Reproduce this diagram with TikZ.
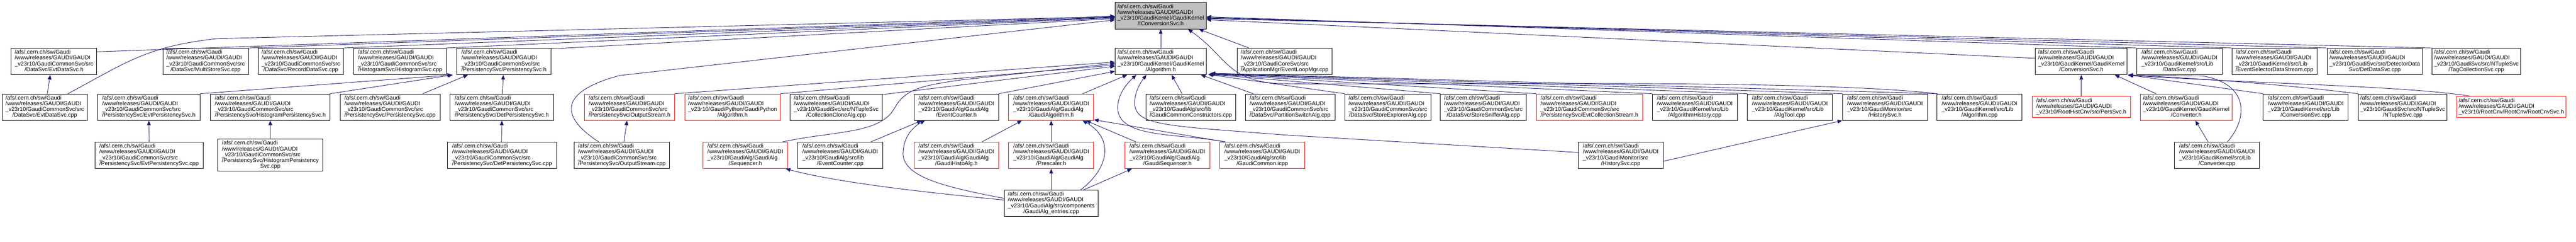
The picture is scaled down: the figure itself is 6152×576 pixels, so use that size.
\documentclass[tikz,border=0pt]{standalone}
\usepackage{fontspec}
\setmainfont{Liberation Sans}
\usetikzlibrary{arrows.meta,calc}
\definecolor{edgec}{RGB}{25,25,112}
\definecolor{rootfill}{RGB}{191,191,191}
\newcommand\LA[2]{\begin{tabular}{@{}l@{}}/afs/.cern.ch/sw/Gaudi\\/www/releases/GAUDI/GAUDI\\#1\\\multicolumn{1}{@{}c@{}}{#2}\end{tabular}}
\newcommand\LB[1]{\begin{tabular}{@{}l@{}}/afs/.cern.ch/sw/Gaudi\\/www/releases/GAUDI/GAUDI\\#1\end{tabular}}
\newcommand\LC[3]{\begin{tabular}{@{}l@{}}/afs/.cern.ch/sw/Gaudi\\/www/releases/GAUDI/GAUDI\\#1\\#2\\\multicolumn{1}{@{}c@{}}{#3}\end{tabular}}
\tikzset{
 bx/.style={draw=black, line width=1.1pt, fill=white, inner sep=0pt, minimum height=63pt},
 rbx/.style={bx, draw=red},
 e/.style={draw=edgec, line width=1.1pt, -{Triangle[length=11pt,width=9pt]}},
}
\begin{document}
\begin{tikzpicture}[x=1pt,y=-1pt,font=\fontsize{13.5}{13.3}\selectfont]
\fill[white] (0,0) rectangle (6152,576);
\useasboundingbox (0,0) rectangle (6152,576);
% row 0
\node[bx, fill=rootfill, minimum width=218pt] (root) at (2772,37.5) {\LA{\_v23r10/GaudiKernel/GaudiKernel}{/IConversionSvc.h}};
% row 1
\node[bx, minimum width=204pt] (evtdatah) at (129,146.5) {\LA{\_v23r10/GaudiCommonSvc/src}{/DataSvc/EvtDataSvc.h}};
\node[bx, minimum width=204pt] (multistore) at (491,146.5) {\LA{\_v23r10/GaudiCommonSvc/src}{/DataSvc/MultiStoreSvc.cpp}};
\node[bx, minimum width=203pt] (recorddata) at (718.5,146.5) {\LA{\_v23r10/GaudiCommonSvc/src}{/DataSvc/RecordDataSvc.cpp}};
\node[bx, minimum width=221pt] (histsvc) at (955.5,146.5) {\LA{\_v23r10/GaudiCommonSvc/src}{/HistogramSvc/HistogramSvc.cpp}};
\node[bx, minimum width=225pt] (perssvch) at (1203.5,146.5) {\LA{\_v23r10/GaudiCommonSvc/src}{/PersistencySvc/PersistencySvc.h}};
\node[bx, minimum width=218pt] (algh) at (2772,146.5) {\LA{\_v23r10/GaudiKernel/GaudiKernel}{/Algorithm.h}};
\node[bx, minimum width=226pt] (evtloop) at (3068,146.5) {\LA{\_v23r10/GaudiCoreSvc/src}{/ApplicationMgr/EventLoopMgr.cpp}};
\node[bx, minimum width=219pt] (convsvch) at (4970.5,146.5) {\LA{\_v23r10/GaudiKernel/GaudiKernel}{/ConversionSvc.h}};
\node[bx, minimum width=204pt] (datasvccpp) at (5205,146.5) {\LA{\_v23r10/GaudiKernel/src/Lib}{/DataSvc.cpp}};
\node[bx, minimum width=202pt] (evtsel) at (5432,146.5) {\LA{\_v23r10/GaudiKernel/src/Lib}{/EventSelectorDataStream.cpp}};
\node[bx, minimum width=227pt] (detdata) at (5671.5,146.5) {\LA{\_v23r10/GaudiSvc/src/DetectorData}{Svc/DetDataSvc.cpp}};
\node[bx, minimum width=212pt] (tagcoll) at (5914,146.5) {\LA{\_v23r10/GaudiSvc/src/NTupleSvc}{/TagCollectionSvc.cpp}};
% row 2
\node[bx, minimum width=204pt] (evtdatacpp) at (107,255.5) {\LA{\_v23r10/GaudiCommonSvc/src}{/DataSvc/EvtDataSvc.cpp}};
\node[bx, minimum width=245pt] (evtpersh) at (355.5,255.5) {\LA{\_v23r10/GaudiCommonSvc/src}{/PersistencySvc/EvtPersistencySvc.h}};
\node[bx, minimum width=285pt] (histpersh) at (645.5,255.5) {\LA{\_v23r10/GaudiCommonSvc/src}{/PersistencySvc/HistogramPersistencySvc.h}};
\node[bx, minimum width=239pt] (perssvccpp) at (931.5,255.5) {\LA{\_v23r10/GaudiCommonSvc/src}{/PersistencySvc/PersistencySvc.cpp}};
\node[bx, minimum width=247pt] (detpersh) at (1198.5,255.5) {\LA{\_v23r10/GaudiCommonSvc/src}{/PersistencySvc/DetPersistencySvc.h}};
\node[rbx, minimum width=215pt] (outstreamh) at (1503.5,255.5) {\LA{\_v23r10/GaudiCommonSvc/src}{/PersistencySvc/OutputStream.h}};
\node[rbx, minimum width=227pt] (pyalgh) at (1749.5,255.5) {\LA{\_v23r10/GaudiPython/GaudiPython}{/Algorithm.h}};
\node[bx, minimum width=220pt] (collclone) at (1997,255.5) {\LA{\_v23r10/GaudiSvc/src/NTupleSvc}{/CollectionCloneAlg.cpp}};
\node[bx, minimum width=202pt] (evcounterh) at (2284,255.5) {\LA{\_v23r10/GaudiAlg/GaudiAlg}{/EventCounter.h}};
\node[rbx, minimum width=203pt] (gaudialgh) at (2510.5,255.5) {\LA{\_v23r10/GaudiAlg/GaudiAlg}{/GaudiAlgorithm.h}};
\node[bx, minimum width=214pt] (commonctor) at (2844,255.5) {\LA{\_v23r10/GaudiAlg/src/lib}{/GaudiCommonConstructors.cpp}};
\node[bx, minimum width=214pt] (partition) at (3081,255.5) {\LA{\_v23r10/GaudiCommonSvc/src}{/DataSvc/PartitionSwitchAlg.cpp}};
\node[bx, minimum width=205pt] (storeexp) at (3314.5,255.5) {\LA{\_v23r10/GaudiCommonSvc/src}{/DataSvc/StoreExplorerAlg.cpp}};
\node[bx, minimum width=205pt] (storesniff) at (3542.5,255.5) {\LA{\_v23r10/GaudiCommonSvc/src}{/DataSvc/StoreSnifferAlg.cpp}};
\node[rbx, minimum width=254pt] (evtcollh) at (3796,255.5) {\LA{\_v23r10/GaudiCommonSvc/src}{/PersistencySvc/EvtCollectionStream.h}};
\node[bx, minimum width=203pt] (alghist) at (4047.5,255.5) {\LA{\_v23r10/GaudiKernel/src/Lib}{/AlgorithmHistory.cpp}};
\node[bx, minimum width=203pt] (algtool) at (4274.5,255.5) {\LA{\_v23r10/GaudiKernel/src/Lib}{/AlgTool.cpp}};
\node[bx, minimum width=203pt] (histsvch) at (4501.5,255.5) {\LA{\_v23r10/GaudiMonitor/src}{/HistorySvc.h}};
\node[bx, minimum width=203pt] (algcpp) at (4727.5,255.5) {\LA{\_v23r10/GaudiKernel/src/Lib}{/Algorithm.cpp}};
\node[rbx, minimum width=235pt, minimum height=50pt] (perssvcroot) at (4970.5,255) {\LB{\_v23r10/RootHistCnv/src/PersSvc.h}};
\node[rbx, minimum width=218pt] (converterh) at (5221,255.5) {\LA{\_v23r10/GaudiKernel/GaudiKernel}{/Converter.h}};
\node[bx, minimum width=203pt] (convsvccpp) at (5506.5,255.5) {\LA{\_v23r10/GaudiKernel/src/Lib}{/ConversionSvc.cpp}};
\node[bx, minimum width=212pt] (ntuple) at (5738,255.5) {\LA{\_v23r10/GaudiSvc/src/NTupleSvc}{/NTupleSvc.cpp}};
\node[rbx, minimum width=261pt, minimum height=50pt] (rootcnv) at (5997.5,255) {\LB{\_v23r10/RootCnv/RootCnv/RootCnvSvc.h}};
% row 3
\node[bx, minimum width=258pt] (evtperscpp) at (356,370.5) {\LA{\_v23r10/GaudiCommonSvc/src}{/PersistencySvc/EvtPersistencySvc.cpp}};
\node[bx, minimum width=251pt, minimum height=76pt] (histperscpp) at (645.5,370) {\LC{\_v23r10/GaudiCommonSvc/src}{/PersistencySvc/HistogramPersistency}{Svc.cpp}};
\node[bx, minimum width=260pt] (detperscpp) at (1199,370.5) {\LA{\_v23r10/GaudiCommonSvc/src}{/PersistencySvc/DetPersistencySvc.cpp}};
\node[bx, minimum width=228pt] (outstreamcpp) at (1485,370.5) {\LA{\_v23r10/GaudiCommonSvc/src}{/PersistencySvc/OutputStream.cpp}};
\node[rbx, minimum width=202pt] (sequencerh) at (1780,370.5) {\LA{\_v23r10/GaudiAlg/GaudiAlg}{/Sequencer.h}};
\node[bx, minimum width=203pt] (evcountercpp) at (2006.5,370.5) {\LA{\_v23r10/GaudiAlg/src/lib}{/EventCounter.cpp}};
\node[rbx, minimum width=202pt] (histoalgh) at (2284,370.5) {\LA{\_v23r10/GaudiAlg/GaudiAlg}{/GaudiHistoAlg.h}};
\node[rbx, minimum width=203pt] (prescalerh) at (2510.5,370.5) {\LA{\_v23r10/GaudiAlg/GaudiAlg}{/Prescaler.h}};
\node[rbx, minimum width=202pt] (gaudiseqh) at (2788,370.5) {\LA{\_v23r10/GaudiAlg/GaudiAlg}{/GaudiSequencer.h}};
\node[rbx, minimum width=203pt] (commonicpp) at (3014.5,370.5) {\LA{\_v23r10/GaudiAlg/src/lib}{/GaudiCommon.icpp}};
\node[bx, minimum width=203pt] (histsvccpp) at (3870.5,370.5) {\LA{\_v23r10/GaudiMonitor/src}{/HistorySvc.cpp}};
\node[bx, minimum width=203pt] (convertercpp) at (5294.5,370.5) {\LA{\_v23r10/GaudiKernel/src/Lib}{/Converter.cpp}};
% row 4
\node[bx, minimum width=223pt] (entries) at (2510.5,485) {\LA{\_v23r10/GaudiAlg/src/components}{/GaudiAlg\_entries.cpp}};

% ---------- edges into root (left)
\draw[e] ([yshift=-9pt]evtdatah.north east) -- ([yshift=-1pt]root.west);
\draw[e] ([xshift=55pt]evtdatacpp.north) .. controls (300,150) and (350,110) .. (520,92) -- ([yshift=-2pt]root.west);
\draw[e] (multistore.north east) -- ([yshift=-3pt]root.west);
\draw[e] (recorddata.north east) -- ([yshift=-4pt]root.west);
\draw[e] (histsvc.north east) -- ([yshift=-5pt]root.west);
\draw[e] ([yshift=-2pt]perssvch.north east) -- ([yshift=-7pt]root.west);
\draw[e] ([xshift=-55pt]outstreamcpp.north) .. controls (1340,280) and (1330,220) .. (1480,180) -- ([yshift=-10pt]root.west);
% into root (bottom)
\draw[e] (algh.north) -- (root.south);
\draw[e] ([xshift=-85pt]evtloop.north) -- ([xshift=91pt]root.south);
\draw[e] (algcpp.north west) .. controls (4300,185) and (3300,205) .. (3050,199) .. controls (2930,192) and (2925,130) .. ([xshift=65pt]root.south);
% into root (right)
\draw[e] ([yshift=7.5pt]convsvch.west) -- ([yshift=-9.5pt]root.east);
\draw[e] (datasvccpp.north west) -- ([yshift=-2.5pt]root.east);
\draw[e] (evtsel.north west) -- ([yshift=-4pt]root.east);
\draw[e] (detdata.north west) -- ([yshift=-5.5pt]root.east);
\draw[e] (tagcoll.north west) -- ([yshift=-7pt]root.east);

% ---------- EvtDataSvc
\draw[e] ([xshift=6pt]evtdatacpp.north) -- ([xshift=-9pt]evtdatah.south);
% ---------- PersistencySvc.h
\draw[e] (evtpersh.north east) -- ([xshift=-11pt]perssvch.south west);
\draw[e] (histpersh.north east) -- ([xshift=-9pt]perssvch.south west);
\draw[e] ([xshift=78pt]perssvccpp.north) -- ([xshift=-86pt]perssvch.south);
\draw[e] ([xshift=1.5pt]detpersh.north) -- ([xshift=-1.5pt]perssvch.south);
\draw[e] (evtperscpp.north) -- (evtpersh.south);
\draw[e] (histperscpp.north) -- (histpersh.south);
\draw[e] ([xshift=-1pt]detperscpp.north) -- (detpersh.south);
\draw[e] ([xshift=5pt]outstreamcpp.north) -- ([xshift=-6pt]outstreamh.south);

% ---------- Algorithm.h (left)
\draw[e] (outstreamh.north east) -- ([yshift=-1.5pt]algh.west);
\draw[e] ([xshift=-13pt]sequencerh.north east) .. controls (1990,312) and (2100,320) .. (2135,260) .. controls (2160,215) and (2190,205) .. (2300,190) -- ([yshift=-4.5pt]algh.west);
\draw[e] (pyalgh.north east) -- ([yshift=-8.5pt]algh.west);
\draw[e] ([yshift=-2pt]collclone.north east) -- ([yshift=-11.5pt]algh.west);
\draw[e] (evcounterh.north east) -- ([yshift=-23.5pt]algh.west);
% Algorithm.h (bottom)
\draw[e] ([xshift=75pt]gaudialgh.north) -- ([xshift=-80pt]algh.south);
\draw[e] ([xshift=-88pt]commonicpp.north) .. controls (2820,318) and (2680,330) .. (2670,265) .. controls (2665,230) and (2690,200) .. ([xshift=-58pt]algh.south);
\draw[e] ([yshift=7pt]histsvccpp.west) -- (3070,322) .. controls (2790,300) and (2715,300) .. (2710,250) .. controls (2708,220) and (2725,195) .. ([xshift=-34pt]algh.south);
\draw[e] ([xshift=-21pt]commonctor.north) -- ([xshift=26pt]algh.south);
\draw[e] ([xshift=-88pt]partition.north) -- ([xshift=96pt]algh.south);
% Algorithm.h (right)
\draw[e] (storeexp.north west) -- ([xshift=4pt,yshift=1pt]algh.south east);
\draw[e] (storesniff.north west) -- ([xshift=5pt,yshift=1.5pt]algh.south east);
\draw[e] (evtcollh.north west) -- ([xshift=6pt,yshift=2pt]algh.south east);
\draw[e] (alghist.north west) -- ([xshift=7pt,yshift=2.5pt]algh.south east);
\draw[e] (algtool.north west) -- ([xshift=8pt,yshift=3pt]algh.south east);
\draw[e] (histsvch.north west) -- ([xshift=9pt,yshift=3.5pt]algh.south east);
\draw[e] ([xshift=2pt]algcpp.north west) -- ([xshift=10pt,yshift=4pt]algh.south east);

% ---------- GaudiAlgorithm.h
\draw[e] ([xshift=61pt]histoalgh.north) -- ([xshift=-70pt]gaudialgh.south);
\draw[e] (prescalerh.north) -- (gaudialgh.south);
\draw[e] ([xshift=-75pt]gaudiseqh.north) -- ([xshift=83pt]gaudialgh.south);
\draw[e] ([xshift=-88pt]commonicpp.north) -- ([yshift=2pt]gaudialgh.south east);
\draw[e] ([xshift=70pt]entries.north) .. controls (2650,400) and (2660,330) .. ([xshift=75pt]gaudialgh.south);
% ---------- GaudiAlg_entries
\draw[e] ([xshift=77pt]entries.north) -- ([xshift=-85pt]gaudiseqh.south);
\draw[e] (entries.north) -- (prescalerh.south);
\draw[e] ([yshift=12pt]entries.west) .. controls (2250,445) and (2150,420) .. (2157,360) .. controls (2160,320) and (2185,300) .. ([xshift=-75pt]evcounterh.south);
\draw[e] ([yshift=8pt]entries.west) .. controls (2200,458) and (2000,435) .. ([xshift=-5pt]sequencerh.south east);
\draw[e] ([xshift=73pt]evcountercpp.north) -- ([xshift=-83pt]evcounterh.south);

% ---------- HistorySvc
\draw[e] ([yshift=-14pt]histsvccpp.east) -- (histsvch.south west);

% ---------- ConversionSvc.h
\draw[e] (perssvcroot.north) -- (convsvch.south);
\draw[e] ([xshift=-72pt]converterh.north) -- ([xshift=80pt]convsvch.south);
\draw[e] (convsvccpp.north west) -- ([xshift=1pt]convsvch.south east);
\draw[e] (ntuple.north west) .. controls (5400,195) and (5200,185) .. ([xshift=2pt]convsvch.south east);
\draw[e] ([xshift=-97pt]rootcnv.north) .. controls (5750,205) and (5400,200) .. ([xshift=3pt,yshift=-1pt]convsvch.south east);
\draw[e] ([xshift=25pt]convertercpp.north) .. controls (5370,280) and (5370,200) .. (5260,181) -- ([xshift=1pt,yshift=-1pt]convsvch.south east);
\draw[e] ([xshift=-21pt]convertercpp.north) -- ([xshift=22pt]converterh.south);
\end{tikzpicture}
\end{document}
